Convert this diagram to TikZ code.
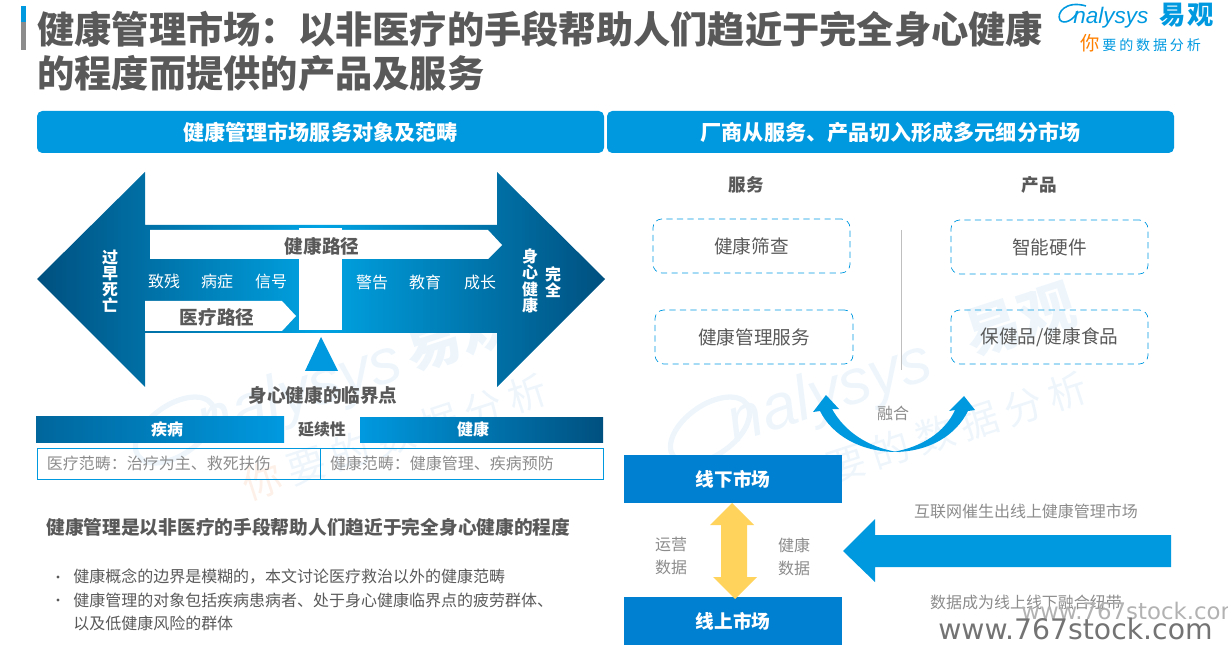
\documentclass[tikz,border=0pt]{standalone}
\usepackage{fontspec}
\setmainfont{Noto Sans CJK SC}
\newfontfamily\latinfont{Liberation Sans}
\newfontfamily\wwwfont{DejaVu Sans}
\newcommand{\gapmark}{\hspace{4.5pt}}
\newcommand{\gaplogo}{\hspace{1.6pt}}
\definecolor{mainblue}{HTML}{0099E0}
\definecolor{darkblue}{HTML}{00507F}
\definecolor{boxblue}{HTML}{0080D0}
\definecolor{textgray}{HTML}{595959}
\definecolor{softgray}{HTML}{8C8C8C}
\definecolor{goldarrow}{HTML}{FFD35C}
\definecolor{markblue}{HTML}{EEF6FC}
\definecolor{markorange}{HTML}{FDF0E8}
\begin{document}
\begin{tikzpicture}[
x=0.02cm,y=-0.02cm,
titletext/.style={font=\fontsize{21.2}{24}\selectfont\bfseries,text=textgray,anchor=west,inner sep=0},
headbar/.style={fill=mainblue,rounded corners=3pt,font=\fontsize{12}{14}\selectfont\bfseries,text=white},
darkbold/.style={font=\fontsize{10.6}{12}\selectfont\bfseries,text=textgray,inner sep=0},
whitesmall/.style={font=\fontsize{9.1}{11}\selectfont,text=white,inner sep=0},
whitestack/.style={font=\fontsize{9.1}{9.2}\selectfont\bfseries,text=white,align=center,inner sep=0},
graysmall/.style={font=\fontsize{9.1}{11}\selectfont,text=softgray,inner sep=0},
bodytext/.style={font=\fontsize{9.1}{13.1}\selectfont,text=textgray,inner sep=0,anchor=west},
dashbox/.style={draw=mainblue,dash pattern=on 3.5pt off 2.5pt,rounded corners=5pt,font=\fontsize{10.6}{12}\selectfont,text=textgray},
marketbox/.style={fill=boxblue,font=\fontsize{10.6}{12}\selectfont\bfseries,text=white},
scopebox/.style={draw=mainblue,font=\fontsize{9.1}{11}\selectfont,text=softgray,inner sep=0},
markfont/.style={rotate=18,inner sep=0,text=markblue}
]
\useasboundingbox(0,0)rectangle(1228,655);
\clip(0,0)rectangle(1228,655);
%% Watermarks
\draw[markblue,line width=3pt,rotate around={35:(175,430)}](175,430)ellipse(45 and 25);
\node[markfont,font=\fontsize{36}{40}\selectfont\itshape\latinfont]at(300,395)(markleft){nalysys};
\node[markfont,font=\fontsize{32}{36}\selectfont\bfseries]at(460,335)(markleftcn){易观};
\node[markfont,font=\fontsize{22}{26}\selectfont]at(395,437)(markleftsub){\textcolor{markorange}{你}\gapmark 要\gapmark 的\gapmark 数\gapmark 据\gapmark 分\gapmark 析};
\draw[markblue,line width=3pt,rotate around={35:(710,430)}](710,430)ellipse(45 and 25);
\node[markfont,font=\fontsize{36}{40}\selectfont\itshape\latinfont]at(830,395)(markright){nalysys};
\node[markfont,font=\fontsize{32}{36}\selectfont\bfseries]at(1020,320)(markrightcn){易观};
\node[markfont,font=\fontsize{22}{26}\selectfont]at(935,435)(markrightsub){\textcolor{markorange}{你}\gapmark 要\gapmark 的\gapmark 数\gapmark 据\gapmark 分\gapmark 析};
%% Title
\fill[mainblue](21,6)rectangle(26,22);
\fill[softgray](21,22)rectangle(26,50);
\node[titletext]at(37,29)(title1){健康管理市场：以非医疗的手段帮助人们趋近于完全身心健康};
\node[titletext]at(37,73)(title2){的程度而提供的产品及服务};
%% Logo
\draw[mainblue,line width=0.9pt](1086,6) .. controls (1066,0) and (1056,13) .. (1060,20) .. controls (1064,25) and (1074,20) .. (1078,11);
\node[font=\fontsize{12.8}{14}\selectfont\itshape\latinfont,text=mainblue,inner sep=0,anchor=west]at(1073,18)(logoname){nalysys};
\node[font=\fontsize{15}{16}\selectfont\bfseries,text=mainblue,inner sep=0,anchor=west]at(1159,15)(logocn){易\hspace{1pt}观};
\node[font=\fontsize{8}{9}\selectfont,text=mainblue,inner sep=0,anchor=west]at(1080,43)(logosub){{\fontsize{11}{12}\selectfont\color{orange}你}\gaplogo 要\gaplogo 的\gaplogo 数\gaplogo 据\gaplogo 分\gaplogo 析};
%% Section bars
\node[headbar,minimum width=567*0.02cm,minimum height=42*0.02cm]at(320.5,132)(leftbar){健康管理市场服务对象及范畴};
\node[headbar,minimum width=567*0.02cm,minimum height=42*0.02cm]at(890.5,132)(rightbar){厂商从服务、产品切入形成多元细分市场};
%% Double arrow
\path[left color=darkblue,right color=darkblue,middle color=mainblue!90!cyan]
(37,279)--(145,172)--(145,225)--(497,225)--(497,172)--(605,279)--(497,387)--(497,333)--(145,333)--(145,387)--cycle;
\fill[white](150,230)--(488,230)--(502,245)--(488,259)--(150,259)--cycle;
\fill[white](145,301)--(282,301)--(296,316)--(282,331)--(145,331)--cycle;
\fill[white](299,228)rectangle(342,330);
\fill[mainblue](321,337)--(338,371)--(305,371)--cycle;
\node[darkbold]at(322,246)(healthpath){健康路径};
\node[darkbold]at(217,317)(medpath){医疗路径};
\node[whitestack]at(110,281)(early){过\\早\\死\\亡};
\node[whitestack]at(530,281)(body){身\\心\\健\\康};
\node[whitestack]at(553,282)(whole){完\\全};
\node[whitesmall]at(164,281)(w1){致残};
\node[whitesmall]at(217,281)(w2){病症};
\node[whitesmall]at(271,281)(w3){信号};
\node[whitesmall]at(372,282)(w4){警告};
\node[whitesmall]at(425,282)(w5){教育};
\node[whitesmall]at(480,282)(w6){成长};
\node[darkbold]at(323,395)(critical){身心健康的临界点};
%% Continuity bars
\path[left color=darkblue!70!mainblue,right color=mainblue](36,416)rectangle(284,442);
\path[left color=mainblue,right color=darkblue](360,417)rectangle(603,442);
\node[whitesmall,font=\fontsize{9.1}{11}\selectfont\bfseries]at(167,429)(sick){疾病};
\node[whitesmall,font=\fontsize{9.1}{11}\selectfont\bfseries]at(473,429)(well){健康};
\node[darkbold,font=\fontsize{9.1}{11}\selectfont\bfseries]at(322,429)(cont){延续性};
\node[scopebox,minimum width=283*0.02cm,minimum height=31*0.02cm,text width=263*0.02cm]at(178.5,463.5)(scope1){医疗范畴：治疗为主、救死扶伤};
\node[scopebox,minimum width=283*0.02cm,minimum height=31*0.02cm,text width=263*0.02cm]at(461.5,463.5)(scope2){健康范畴：健康管理、疾病预防};
%% Text under the diagram
\node[darkbold,anchor=west,font=\fontsize{10.65}{12}\selectfont\bfseries]at(46,527)(lead){健康管理是以非医疗的手段帮助人们趋近于完全身心健康的程度};
\fill[textgray](58,577)circle(1.6);
\fill[textgray](58,600)circle(1.6);
\node[bodytext]at(73,577)(b1){健康概念的边界是模糊的，本文讨论医疗救治以外的健康范畴};
\node[bodytext]at(73,600)(b2){健康管理的对象包括疾病患病者、处于身心健康临界点的疲劳群体、};
\node[bodytext]at(73,623)(b3){以及低健康风险的群体};
%% Services and products
\node[darkbold,font=\fontsize{10}{12}\selectfont\bfseries]at(746,185)(service){服务};
\node[darkbold,font=\fontsize{10}{12}\selectfont\bfseries]at(1039,185)(product){产品};
\node[dashbox,minimum width=197*0.02cm,minimum height=54*0.02cm]at(751.5,246)(s1){健康筛查};
\node[dashbox,minimum width=197*0.02cm,minimum height=54*0.02cm]at(1049.5,247)(p1){智能硬件};
\node[dashbox,minimum width=198*0.02cm,minimum height=54*0.02cm]at(754,337)(s2){健康管理服务};
\node[dashbox,minimum width=197*0.02cm,minimum height=54*0.02cm]at(1049.5,337)(p2){保健品/健康食品};
\draw[black!25](901,230)--(901,370);
%% Merge arrows
\fill[mainblue](826,395)--(839,409)--(832,409)
.. controls (845,432) and (868,447) .. (897,452)
.. controls (860,452) and (832,435) .. (820,411)--(813,412)--cycle;
\fill[mainblue](964,396)--(975,410)--(968,411)
.. controls (956,435) and (930,452) .. (893,452)
.. controls (922,447) and (945,432) .. (955,410)--(949,411)--cycle;
\node[graysmall]at(893,413)(merge){融合};
%% Markets
\node[marketbox,minimum width=218*0.02cm,minimum height=48*0.02cm]at(733,479)(offline){线下市场};
\node[marketbox,minimum width=218*0.02cm,minimum height=48*0.02cm]at(733,621)(online){线上市场};
\fill[goldarrow](732,503)--(754,525)--(747,525)--(747,577)--(757,577)--(735,599)--(713,577)--(721,577)--(721,525)--(710,525)--cycle;
\node[graysmall,align=center,font=\fontsize{9.1}{13}\selectfont]at(671,556)(opdata){运营\\数据};
\node[graysmall,align=center,font=\fontsize{9.1}{13}\selectfont]at(794,557)(hedata){健康\\数据};
\fill[mainblue](843,551)--(875,519)--(875,535)--(1171,535)--(1171,567)--(875,567)--(875,582)--cycle;
\node[graysmall]at(1026,511)(net){互联网催生出线上健康管理市场};
\node[graysmall]at(1026,602)(tie){数据成为线上线下融合纽带};
%% Site marks
\node[font=\fontsize{13}{15}\selectfont\wwwfont,text=black!30,anchor=west,inner sep=0]at(1021,611)(site2){www.767stock.com};
\node[font=\fontsize{16.1}{18}\selectfont\wwwfont,text=black!55,anchor=west,inner sep=0]at(938,629)(site1){www.767stock.com};
\end{tikzpicture}
\end{document}
